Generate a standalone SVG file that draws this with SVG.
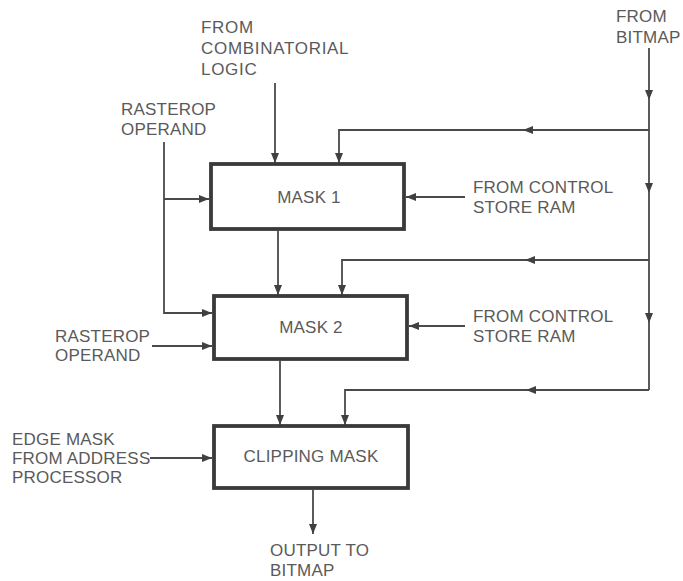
<svg xmlns="http://www.w3.org/2000/svg" width="683" height="581" viewBox="0 0 683 581">
<style>
  text { font-family: "Liberation Sans", Arial, sans-serif; font-size: 17px; fill: #5a5a5a; letter-spacing: 0.2px; }
  .c { text-anchor: middle; }
  .wide { letter-spacing: 0.7px; }
  .box { fill: #ffffff; stroke: #3a3a3a; stroke-width: 3.8; }
  .ln { fill: none; stroke: #4a4a4a; stroke-width: 1.8; }
  .ar { marker-end: url(#ah); }
</style>
<defs>
  <marker id="ah" viewBox="0 0 10 8" refX="10" refY="4" markerUnits="userSpaceOnUse" markerWidth="11" markerHeight="8" orient="auto">
    <path d="M0,0 L10,4 L0,8 z" fill="#404040"/>
  </marker>
</defs>
<rect width="683" height="581" fill="#ffffff"/>

<g id="connectors">
  <path class="ln ar" d="M275,83 V163"/>
  <path class="ln ar" d="M649,48 V100"/>
  <path class="ln ar" d="M649,100 V193"/>
  <path class="ln ar" d="M649,193 V323"/>
  <path class="ln" d="M649,323 V390"/>
  <path class="ln ar" d="M649,130 H523"/>
  <path class="ln ar" d="M523,130 H339 V163"/>
  <path class="ln ar" d="M649,260 H525"/>
  <path class="ln ar" d="M525,260 H342 V295"/>
  <path class="ln ar" d="M649,390 H526"/>
  <path class="ln ar" d="M526,390 H345 V425"/>
  <path class="ln ar" d="M465,197 H406"/>
  <path class="ln ar" d="M465,326 H409"/>
  <path class="ln ar" d="M164,142 V313 H212"/>
  <path class="ln ar" d="M164,199 H209"/>
  <path class="ln ar" d="M152,346 H212"/>
  <path class="ln ar" d="M150,458 H212"/>
  <path class="ln ar" d="M278,231 V295"/>
  <path class="ln ar" d="M280,361 V425"/>
  <path class="ln ar" d="M313,490 V534"/>
</g>

<g id="mask1">
  <rect class="box" x="211" y="164" width="193" height="65"/>
  <text class="c" x="309" y="203">MASK 1</text>
</g>
<g id="mask2">
  <rect class="box" x="214" y="296" width="193" height="63"/>
  <text class="c" x="311" y="333">MASK 2</text>
</g>
<g id="clipping-mask">
  <rect class="box" x="214" y="426" width="194" height="62"/>
  <text class="c" x="311" y="462">CLIPPING MASK</text>
</g>

<g id="label-combinatorial">
  <text class="wide" x="201" y="33">FROM</text>
  <text class="wide" x="201" y="54">COMBINATORIAL</text>
  <text class="wide" x="201" y="75">LOGIC</text>
</g>
<g id="label-bitmap-in">
  <text x="616" y="22">FROM</text>
  <text x="616" y="43">BITMAP</text>
</g>
<g id="label-rasterop-1">
  <text x="121" y="115">RASTEROP</text>
  <text x="121" y="135">OPERAND</text>
</g>
<g id="label-control-1">
  <text x="473" y="193">FROM CONTROL</text>
  <text x="473" y="213">STORE RAM</text>
</g>
<g id="label-control-2">
  <text x="473" y="322">FROM CONTROL</text>
  <text x="473" y="342">STORE RAM</text>
</g>
<g id="label-rasterop-2">
  <text x="55" y="342">RASTEROP</text>
  <text x="55" y="361">OPERAND</text>
</g>
<g id="label-edge-mask">
  <text x="12" y="445">EDGE MASK</text>
  <text x="12" y="464">FROM ADDRESS</text>
  <text x="12" y="483">PROCESSOR</text>
</g>
<g id="label-output">
  <text x="270" y="556">OUTPUT TO</text>
  <text x="270" y="576">BITMAP</text>
</g>
</svg>
